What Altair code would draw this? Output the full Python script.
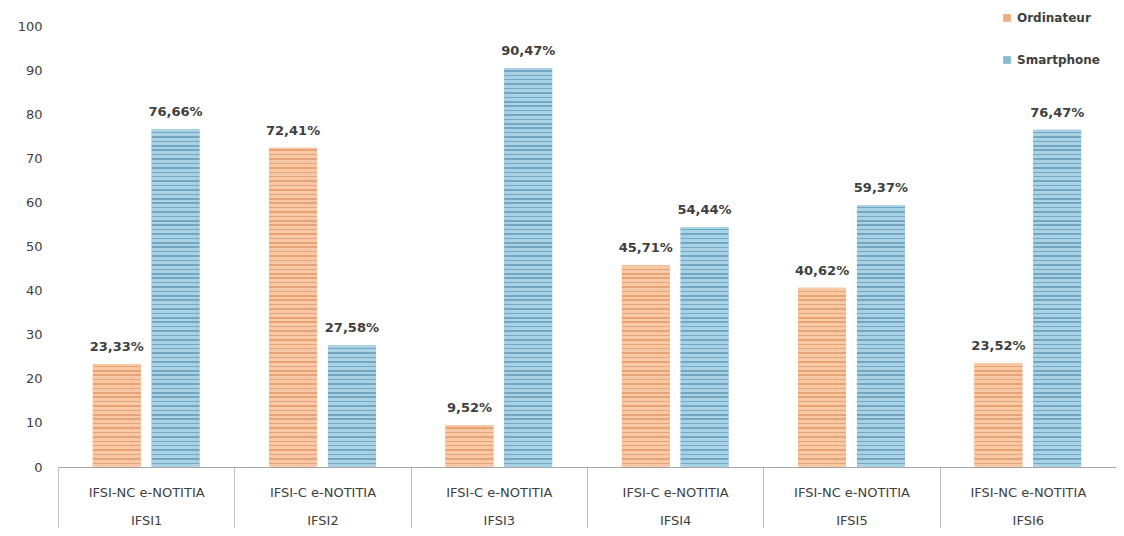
import altair as alt
import pandas as pd

categories = ["IFSI1", "IFSI2", "IFSI3", "IFSI4", "IFSI5", "IFSI6"]
types = ["IFSI-NC e-NOTITIA", "IFSI-C e-NOTITIA", "IFSI-C e-NOTITIA",
         "IFSI-C e-NOTITIA", "IFSI-NC e-NOTITIA", "IFSI-NC e-NOTITIA"]
series = ["Ordinateur", "Smartphone"]
ordinateur = [23.33, 72.41, 9.52, 45.71, 40.62, 23.52]
smartphone = [76.66, 27.58, 90.47, 54.44, 59.37, 76.47]

rows = []
for c, o, s in zip(categories, ordinateur, smartphone):
    rows.append({"cat": c, "series": "Ordinateur", "value": o})
    rows.append({"cat": c, "series": "Smartphone", "value": s})
df = pd.DataFrame(rows)
df["label"] = df["value"].map(lambda v: f"{v:.2f}".replace(".", ",") + "%")

FONT = "DejaVu Sans"
light = {"Ordinateur": "#F8C9A4", "Smartphone": "#A8D3E6"}
dark = {"Ordinateur": "#E6A476", "Smartphone": "#74A6BF"}
solid = {"Ordinateur": "#F0AE80", "Smartphone": "#86BBD2"}


def stripes(v, s):
    stops = []
    k = 0.0
    while k < v:
        a = k
        b = min(k + 0.65, v)
        c = min(k + 1.0, v)
        for y0, y1, col in ((a, b, light[s]), (b, c, dark[s])):
            if y1 > y0:
                stops.append(((v - y1) / v, (v - y0) / v, col))
        k += 1.0
    stops.sort()
    out = []
    for o0, o1, col in stops:
        out.append(alt.GradientStop(offset=max(0.0, o0), color=col))
        out.append(alt.GradientStop(offset=min(1.0, o1), color=col))
    return alt.LinearGradient(gradient="linear", stops=out, x1=0, x2=0, y1=0, y2=1)


label_expr = "[" + "".join(
    f"datum.value == '{c}' ? '{t}' : " for c, t in zip(categories, types)
) + "'', datum.value]"

x_enc = alt.X("cat:N", sort=categories, title=None,
              scale=alt.Scale(paddingInner=0, paddingOuter=0),
              axis=alt.Axis(labelExpr=label_expr, labelAngle=0, labelFontSize=13,
                            labelColor="#404040", labelFont=FONT,
                            labelLineHeight=28, labelPadding=-43,
                            tickBand="extent", tickSize=62, tickColor="#BFBFBF",
                            domainColor="#A6A6A6", labelBaseline="top"))
xo_enc = alt.XOffset("series:N", sort=series,
                     scale=alt.Scale(paddingInner=0.186, paddingOuter=0.593))
y_enc = alt.Y("value:Q", title=None,
              scale=alt.Scale(domain=[0, 100]),
              axis=alt.Axis(values=list(range(0, 101, 10)), grid=False, domain=False,
                            ticks=False, labelFontSize=13, labelColor="#404040",
                            labelFont=FONT, labelPadding=16))

base = alt.Chart(df)

bars = base.mark_bar().encode(
    x=x_enc, xOffset=xo_enc, y=y_enc,
    color=alt.Color("series:N", sort=series, title=None,
                    scale=alt.Scale(domain=series, range=[solid[s] for s in series]),
                    legend=alt.Legend(orient="none", legendX=943, legendY=-14,
                                      symbolType="square", symbolSize=60,
                                      rowPadding=30, labelFontSize=12,
                                      labelFont=FONT, labelColor="#404040",
                                      labelFontWeight="bold", symbolStrokeWidth=0))
)

layers = [bars]
for c in categories:
    for s in series:
        v = float(df[(df.cat == c) & (df.series == s)]["value"].iloc[0])
        layers.append(
            base.transform_filter(
                (alt.datum.cat == c) & (alt.datum.series == s)
            ).mark_bar(fill=stripes(v, s)).encode(x=x_enc, xOffset=xo_enc, y=y_enc)
        )

text = base.mark_text(baseline="bottom", dy=-10, fontSize=13, fontWeight="bold",
                      font=FONT, color="#404040").encode(
    x=x_enc, xOffset=xo_enc, y=y_enc, text="label:N")
layers.append(text)

chart = alt.layer(*layers).properties(
    width=1058, height=441,
    autosize=alt.AutoSizeParams(type="none"),
    padding={"left": 50, "top": 18, "right": 0, "bottom": 61},
).configure_view(stroke=None)

chart.save("out.html", embed_options={"renderer": "svg", "actions": False})
